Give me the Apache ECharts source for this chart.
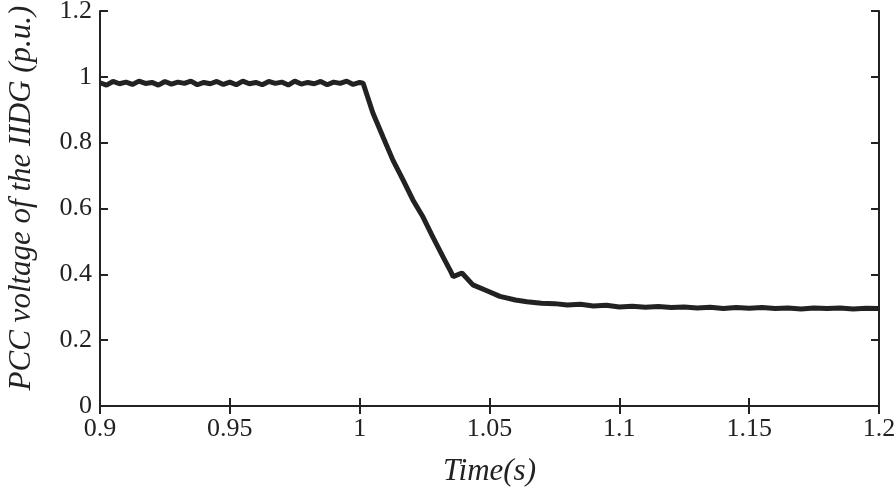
<!DOCTYPE html>
<html><head><meta charset="utf-8">
<script src="https://cdn.jsdelivr.net/npm/echarts@6/dist/echarts.min.js"></script>
<style>html,body{margin:0;padding:0;background:#fff}#c{width:896px;height:492px}</style>
</head><body><div id="c"></div>
<script>
var xTicks = [0.9, 0.95, 1, 1.05, 1.1, 1.15, 1.2];
var yTicks = [0, 0.2, 0.4, 0.6, 0.8, 1, 1.2];
var xLabel = 'Time(s)';
var yLabel = 'PCC voltage of the IIDG (p.u.)';
var time = [
 0.900,0.9025,0.905,0.9075,0.910,0.9125,0.915,0.9175,0.920,0.9225,
 0.925,0.9275,0.930,0.9325,0.935,0.9375,0.940,0.9425,0.945,0.9475,
 0.950,0.9525,0.955,0.9575,0.960,0.9625,0.965,0.9675,0.970,0.9725,
 0.975,0.9775,0.980,0.9825,0.985,0.9875,0.990,0.9925,0.995,0.9975,1.000,
 1.0013,1.0051,1.009,1.0128,1.0167,1.0205,1.0244,1.0282,1.0321,1.0348,1.036,1.0394,1.0436,1.049,1.054,1.060,1.0644,1.070,
 1.075,1.080,1.085,1.090,1.095,1.100,1.105,1.110,1.115,1.120,1.125,1.130,1.135,1.140,1.145,1.150,
 1.155,1.160,1.165,1.170,1.175,1.180,1.185,1.190,1.195,1.200
];
var voltage = [
 0.982,0.975,0.986,0.979,0.984,0.977,0.987,0.980,0.983,0.975,
 0.986,0.978,0.984,0.980,0.987,0.976,0.983,0.979,0.986,0.977,
 0.984,0.976,0.987,0.979,0.983,0.976,0.986,0.980,0.984,0.975,
 0.987,0.978,0.983,0.979,0.986,0.976,0.984,0.980,0.987,0.977,0.983,
 0.981,0.890,0.817,0.747,0.687,0.626,0.574,0.513,0.453,0.413,0.393,0.404,0.368,0.350,0.333,0.322,0.317,0.312,
 0.311,0.307,0.309,0.304,0.306,0.301,0.303,0.300,0.302,0.299,0.301,0.298,0.300,0.296,0.299,0.297,
 0.299,0.296,0.298,0.295,0.298,0.296,0.298,0.295,0.297,0.296
];
var data = time.map(function(t,i){return [t, voltage[i]];});
var chart = echarts.init(document.getElementById('c'), null, {renderer:'canvas'});
var font = '"Liberation Serif", "Times New Roman", serif';
var axisLine = {show:true, lineStyle:{color:'#222', width:2}};
var tick = {show:true, inside:true, length:8, lineStyle:{color:'#222', width:2}};
function xa(pos, show){
  return {type:'value', position:pos, min:0.9, max:1.2, interval:0.05,
    axisLine:axisLine, axisTick:tick, splitLine:{show:false},
    axisLabel:{show:show, color:'#222', fontFamily:font, fontSize:26, margin:10,
      formatter:function(v){return String(+v.toFixed(2));}},
    name: show ? xLabel : '', nameLocation:'middle', nameGap:50,
    nameTextStyle:{fontFamily:font, fontStyle:'italic', fontSize:31, color:'#222'}};
}
function ya(pos, show){
  return {type:'value', position:pos, min:0, max:1.2, interval:0.2,
    axisLine:axisLine, axisTick:tick, splitLine:{show:false},
    axisLabel:{show:show, color:'#222', fontFamily:font, fontSize:26, margin:8,
      formatter:function(v){return String(+v.toFixed(1));}},
    name: show ? yLabel : '', nameLocation:'middle', nameGap:63,
    nameTextStyle:{fontFamily:font, fontStyle:'italic', fontSize:31, color:'#222', padding:[0,0,0,21]}};
}
chart.setOption({
  animation:false,
  backgroundColor:'#fff',
  grid:{left:100, right:17, top:11, bottom:86, containLabel:false, outerBoundsMode:'none'},
  xAxis:[xa('bottom', true), xa('top', false)],
  yAxis:[ya('left', true), ya('right', false)],
  series:[{type:'line', data:data, showSymbol:false, xAxisIndex:0, yAxisIndex:0,
    lineStyle:{color:'#222', width:5}, clip:true}]
});
</script></body></html>
